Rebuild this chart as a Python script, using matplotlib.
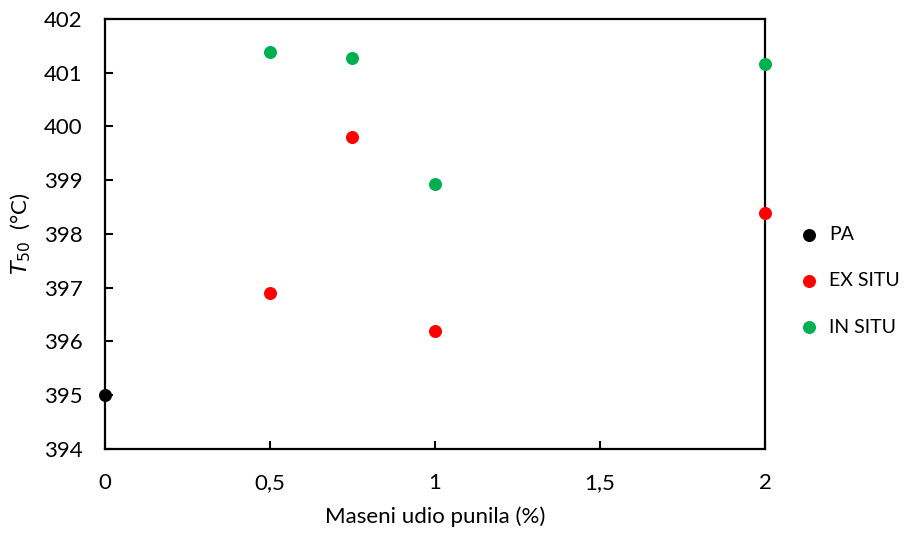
import matplotlib
matplotlib.use("Agg")
import matplotlib.pyplot as plt

plt.rcParams['font.family'] = ['Lato', 'DejaVu Sans']

# podaci
pa_x = [0]
pa_y = [395.0]
ex_x = [0.5, 0.75, 1, 2]
ex_y = [396.90, 399.80, 396.20, 398.39]
in_x = [0.5, 0.75, 1, 2]
in_y = [401.39, 401.27, 398.93, 401.16]

fig = plt.figure(figsize=(9.08, 5.33), dpi=100)
ax = fig.add_axes([0.1156, 0.1576, 0.7269, 0.8068])

ax.scatter(pa_x, pa_y, s=70, color='black', label='PA', zorder=3, clip_on=False)
ax.scatter(ex_x, ex_y, s=70, color='#ff0000', label='EX SITU', zorder=3, clip_on=False)
ax.scatter(in_x, in_y, s=70, color='#00b050', label='IN SITU', zorder=3, clip_on=False)

ax.set_xlim(0, 2)
ax.set_ylim(394, 402)
ax.set_xticks([0, 0.5, 1, 1.5, 2])
ax.set_xticklabels(['0', '0,5', '1', '1,5', '2'])
ax.set_yticks(range(394, 403))
ax.tick_params(direction='in', length=6, width=1.5, labelsize=16, colors='#000000')
ax.tick_params(axis='x', pad=17)
ax.tick_params(axis='y', pad=16)
for sp in ax.spines.values():
    sp.set_linewidth(1.6)

ax.set_xlabel('Maseni udio punila (%)', fontsize=16, labelpad=10)
ax.set_ylabel(r'$T_{50}$  (°C)', fontsize=16, labelpad=8)

fig.legend(loc='center left', bbox_to_anchor=(0.85, 0.473), frameon=False,
           fontsize=14, handletextpad=0.05, labelspacing=1.5, markerscale=1.0)

fig.savefig('out.png', dpi=100)
